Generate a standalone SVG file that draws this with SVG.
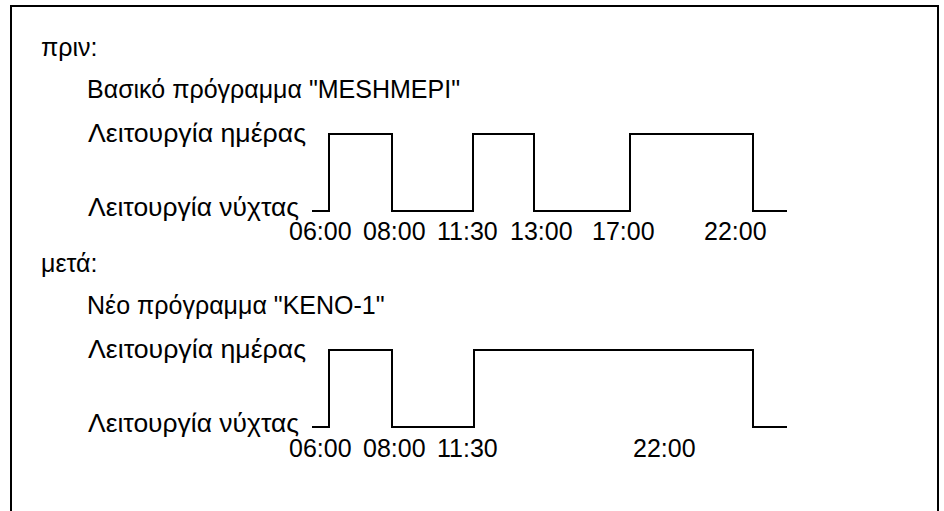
<svg xmlns="http://www.w3.org/2000/svg" width="944" height="511" viewBox="0 0 944 511">
<style>
.t{font-family:"Liberation Sans",Arial,sans-serif;font-size:25px;fill:#000}
.w{fill:none;stroke:#000;stroke-width:2}
.f{fill:none;stroke:#000;stroke-width:2}
</style>
<rect width="944" height="511" fill="#fff"/>
<g id="frame"><polyline class="f" points="11,520 11,6 938,6 938,520"/></g>
<g id="before">
<text class="t" x="41" y="56">πριν:</text>
<text class="t" x="87" y="98">Βασικό πρόγραμμα "MESHMEPI"</text>
<text class="t" x="88" y="142" textLength="218" lengthAdjust="spacingAndGlyphs">Λειτουργία ημέρας</text>
<text class="t" x="88" y="216" textLength="211" lengthAdjust="spacingAndGlyphs">Λειτουργία νύχτας</text>
<text class="t" x="289" y="240">06:00</text>
<text class="t" x="363" y="240">08:00</text>
<text class="t" x="437" y="240">11:30</text>
<text class="t" x="510" y="240">13:00</text>
<text class="t" x="592" y="240">17:00</text>
<text class="t" x="704" y="240">22:00</text>
</g>
<g id="after">
<text class="t" x="41" y="272">μετά:</text>
<text class="t" x="87" y="314">Νέο πρόγραμμα "KENO-1"</text>
<text class="t" x="88" y="358" textLength="218" lengthAdjust="spacingAndGlyphs">Λειτουργία ημέρας</text>
<text class="t" x="88" y="432" textLength="211" lengthAdjust="spacingAndGlyphs">Λειτουργία νύχτας</text>
<text class="t" x="289" y="457">06:00</text>
<text class="t" x="363" y="457">08:00</text>
<text class="t" x="437" y="457">11:30</text>
<text class="t" x="633" y="457">22:00</text>
</g>
<g id="connectors">
<polyline class="w" points="312,211 329,211 329,134 392,134 392,211 473,211 473,134 534,134 534,211 630,211 630,134 753,134 753,211 787,211"/>
<polyline class="w" points="312,427 329,427 329,350 392,350 392,427 474,427 474,350 753,350 753,427 787,427"/>
</g>
</svg>
